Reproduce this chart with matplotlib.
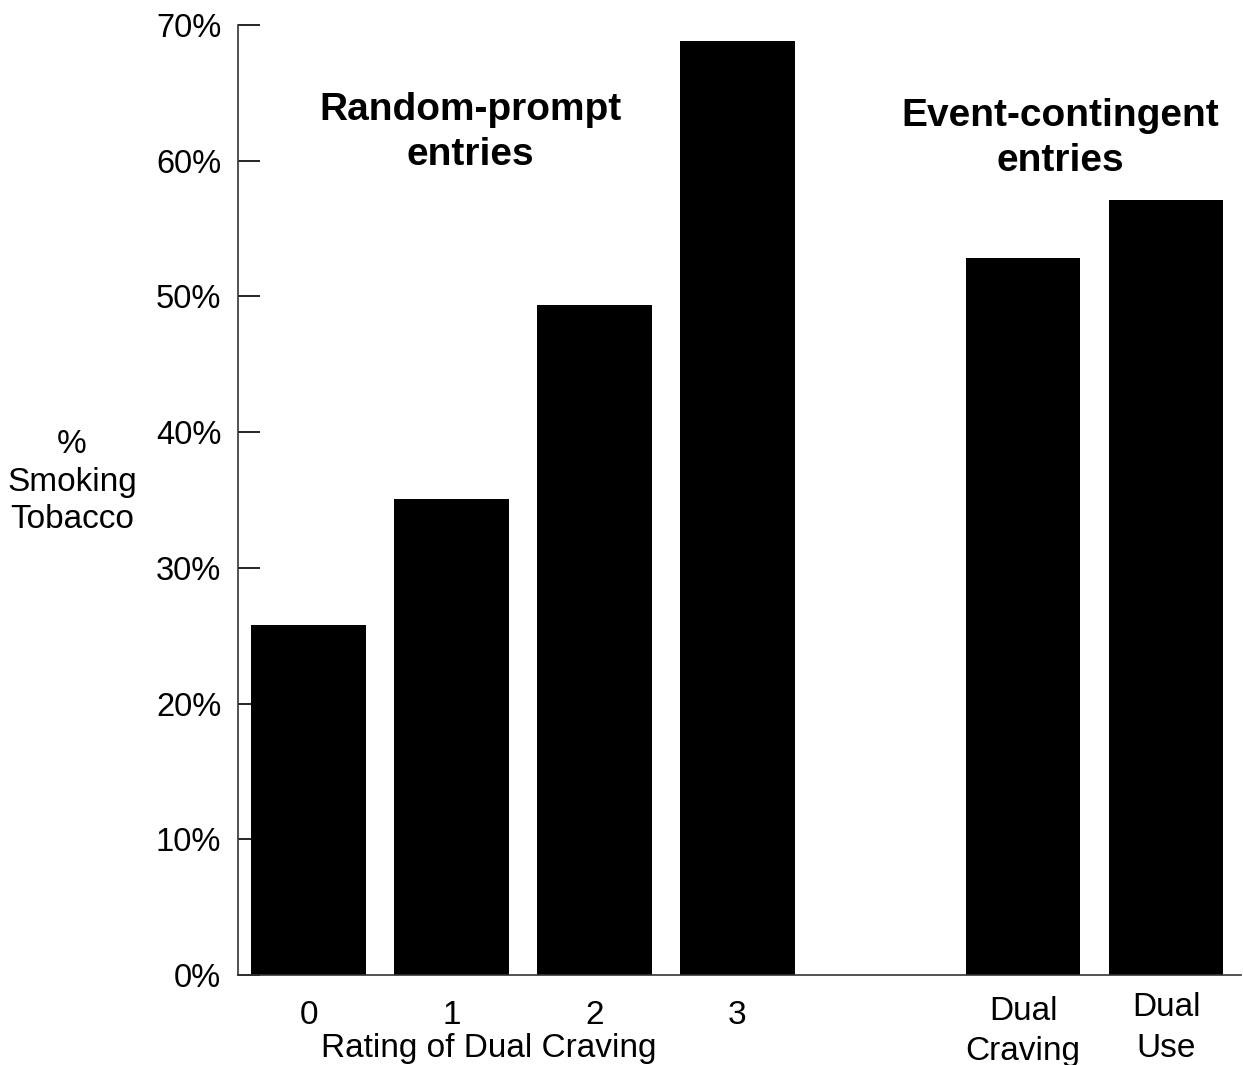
import matplotlib.pyplot as plt
import numpy as np

plt.rcParams['font.family'] = ['Liberation Sans', 'DejaVu Sans']

# data
positions = [0, 1, 2, 3, 5, 6]
values = [25.8, 35.1, 49.4, 68.8, 52.8, 57.1]
rating_labels = ['0', '1', '2', '3']
event_labels = ['Dual\nCraving', 'Dual\nUse']
yticks = np.arange(0, 71, 10)

fig = plt.figure(figsize=(12.43, 10.65), dpi=100)
ax = fig.add_axes([0.1915, 0.0845, 0.8065, 0.892])

ax.bar(positions, values, width=0.8, color='black')

ax.set_xlim(-0.493, 6.52)
ax.set_ylim(0, 70)
ax.set_yticks(yticks)
ax.set_yticklabels(['%d%%' % v for v in yticks], fontsize=23.5)
ax.tick_params(axis='y', direction='in', length=16, width=1.2, pad=12)
ax.set_xticks([])

for s in ['top', 'right']:
    ax.spines[s].set_visible(False)
for s in ['left', 'bottom']:
    ax.spines[s].set_linewidth(1.2)
    ax.spines[s].set_color('#333333')

for p, lab in zip(positions[:4], rating_labels):
    ax.text(p, -2.95, lab, ha='center', va='center', fontsize=24)
ax.text(1.26, -5.4, 'Rating of Dual Craving', ha='center', va='center', fontsize=24)

ax.text(positions[4], -4.15, event_labels[0], ha='center', va='center',
        fontsize=24, linespacing=1.4)
ax.text(positions[5], -3.9, event_labels[1], ha='center', va='center',
        fontsize=24, linespacing=1.4)

ax.text(1.13, 62.05, 'Random-prompt\nentries', ha='center', va='center',
        fontsize=28, fontweight='bold', linespacing=1.32)
ax.text(5.26, 61.65, 'Event-contingent\nentries', ha='center', va='center',
        fontsize=28, fontweight='bold', linespacing=1.32)

fig.text(72 / 1243, 1 - 482 / 1065, '%\nSmoking\nTobacco', ha='center', va='center',
         fontsize=24, linespacing=1.28)

plt.savefig('out.png', dpi=100)
